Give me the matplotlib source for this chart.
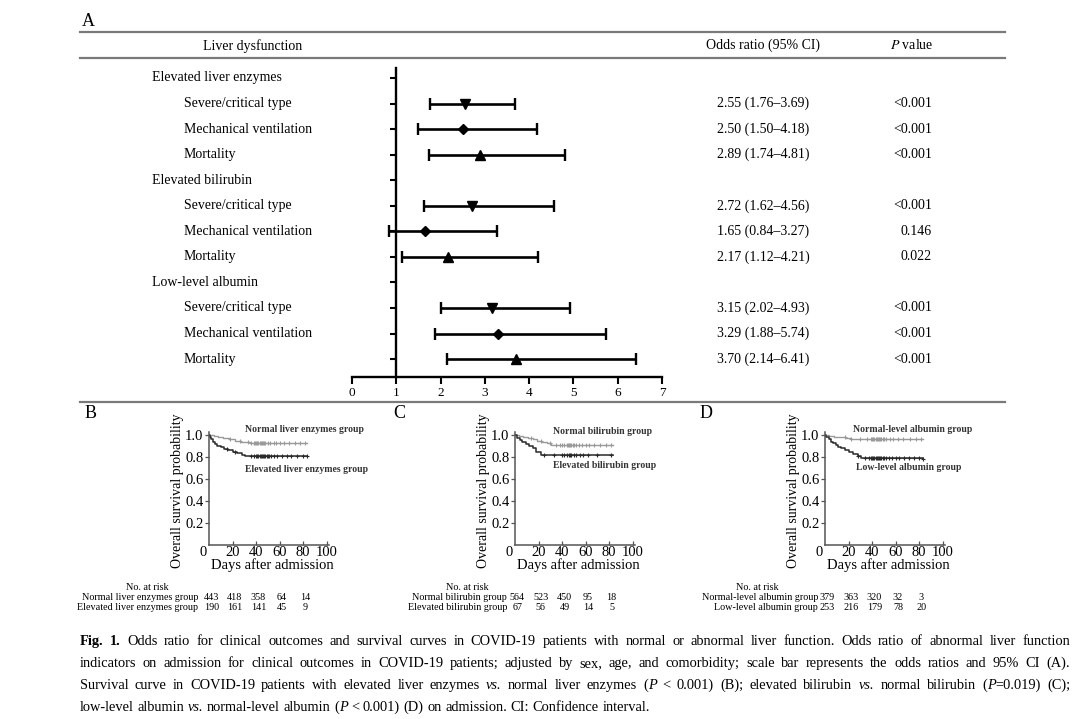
import matplotlib
matplotlib.use("Agg")
import matplotlib.pyplot as plt
import matplotlib.transforms as mtransforms
from matplotlib.lines import Line2D
import numpy as np

plt.rcParams["font.family"] = ["Liberation Serif", "DejaVu Serif"]

W, H = 1080, 719

# ---------------------------------------------------------------------------
# Panel A data: odds ratios (95% CI) and P values
# ---------------------------------------------------------------------------
GROUPS = ["Elevated liver enzymes", "Elevated bilirubin", "Low-level albumin"]
OUTCOMES = ["Severe/critical type", "Mechanical ventilation", "Mortality"]
OR_VAL = [2.55, 2.50, 2.89, 2.72, 1.65, 2.17, 3.15, 3.29, 3.70]
CI_LO = [1.76, 1.50, 1.74, 1.62, 0.84, 1.12, 2.02, 1.88, 2.14]
CI_HI = [3.69, 4.18, 4.81, 4.56, 3.27, 4.21, 4.93, 5.74, 6.41]
P_VAL = ["<0.001", "<0.001", "<0.001", "<0.001", "0.146", "0.022",
         "<0.001", "<0.001", "<0.001"]
MARKERS = {"Severe/critical type": ("v", 7), "Mechanical ventilation": ("D", 4.8),
           "Mortality": ("^", 7)}

# ---------------------------------------------------------------------------
# Panels B-D: Kaplan-Meier curves (step times, survival, censor times)
# ---------------------------------------------------------------------------
B_NORM_T = [0, 4, 8, 12, 17, 22, 27, 31, 35, 83]
B_NORM_S = [1.0, 0.99, 0.98, 0.97, 0.96, 0.95, 0.94, 0.935, 0.93, 0.93]
B_NORM_C = [18, 26, 33, 36, 38, 39, 40, 41, 42, 43, 44, 45, 46, 47, 48, 50,
            52, 55, 57, 60, 64, 68, 73, 77, 82]
B_ELEV_T = [0, 1, 2, 3, 5, 7, 10, 13, 16, 20, 24, 28, 31, 83]
B_ELEV_S = [1.0, 0.98, 0.96, 0.94, 0.92, 0.90, 0.89, 0.875, 0.865, 0.85,
            0.835, 0.82, 0.81, 0.81]
B_ELEV_C = [15, 22, 36, 38, 40, 41, 42, 43, 44, 45, 46, 47, 48, 49, 50, 51,
            53, 55, 58, 62, 66, 70, 75, 80, 83]

C_NORM_T = [0, 3, 7, 11, 15, 19, 23, 27, 31, 83]
C_NORM_S = [1.0, 0.99, 0.98, 0.97, 0.96, 0.95, 0.94, 0.925, 0.91, 0.91]
C_NORM_C = [14, 22, 30, 35, 38, 40, 42, 44, 45, 46, 47, 48, 49, 50, 52, 54,
            57, 60, 63, 67, 72, 77, 82]
C_ELEV_T = [0, 2, 4, 6, 9, 12, 15, 18, 22, 83]
C_ELEV_S = [1.0, 0.97, 0.955, 0.94, 0.92, 0.90, 0.88, 0.85, 0.82, 0.82]
C_ELEV_C = [25, 33, 40, 42, 44, 46, 47, 48, 50, 52, 55, 58, 62, 70, 82]

D_NORM_T = [0, 3, 8, 18, 22, 83]
D_NORM_S = [1.0, 0.99, 0.98, 0.97, 0.96, 0.96]
D_NORM_C = [17, 22, 30, 36, 39, 40, 41, 42, 43, 44, 45, 46, 47, 48, 49, 50,
            52, 55, 58, 62, 66, 72, 77, 82]
D_LOW_T = [0, 1, 3, 5, 7, 9, 11, 14, 17, 20, 24, 28, 31, 83]
D_LOW_S = [1.0, 0.98, 0.96, 0.94, 0.925, 0.91, 0.895, 0.88, 0.865, 0.85,
           0.83, 0.81, 0.79, 0.785]
D_LOW_C = [28, 34, 37, 39, 40, 41, 42, 43, 44, 45, 46, 47, 48, 49, 50, 52,
           54, 57, 60, 63, 67, 71, 76, 80, 83]

RISK_DAYS = [0, 20, 40, 60, 80]
B_RISK = ([443, 418, 358, 64, 14], [190, 161, 141, 45, 9])
C_RISK = ([564, 523, 450, 95, 18], [67, 56, 49, 14, 5])
D_RISK = ([379, 363, 320, 32, 3], [253, 216, 179, 78, 20])

B_NAMES = ("Normal liver enzymes group", "Elevated liver enzymes group")
C_NAMES = ("Normal bilirubin group", "Elevated bilirubin group")
D_NAMES = ("Normal-level albumin group", "Low-level albumin group")

CAPTION = [
    [("Fig. 1.", "b"), (" Odds ratio for clinical outcomes and survival curves in COVID-19 "
     "patients with normal or abnormal liver function. Odds ratio of abnormal liver function", "n")],
    [("indicators on admission for clinical outcomes in COVID-19 patients; adjusted by sex, "
      "age, and comorbidity; scale bar represents the odds ratios and 95% CI (A).", "n")],
    [("Survival curve in COVID-19 patients with elevated liver enzymes ", "n"), ("vs.", "i"),
     (" normal liver enzymes (", "n"), ("P", "i"), (" < 0.001) (B); elevated bilirubin ", "n"),
     ("vs.", "i"), (" normal bilirubin (", "n"), ("P", "i"), ("=0.019) (C);", "n")],
    [("low-level albumin ", "n"), ("vs.", "i"), (" normal-level albumin (", "n"), ("P", "i"),
     (" < 0.001) (D) on admission. CI: Confidence interval.", "n")],
]

fig = plt.figure(figsize=(W / 100, H / 100), dpi=100)


def fpos(x, y):
    return x / W, 1 - y / H


def axes_px(l, t, r, b):
    return fig.add_axes([l / W, 1 - b / H, (r - l) / W, (b - t) / H])


def hline(x0, x1, y, color="#7a7a7a", lw=1.6):
    fig.add_artist(Line2D([x0 / W, x1 / W], [1 - y / H, 1 - y / H],
                          transform=fig.transFigure, color=color, lw=lw))


FS_A = 10

# ---------------------------------------------------------------------------
# Panel A — forest plot
# ---------------------------------------------------------------------------
fig.text(*fpos(82, 22), "A", fontsize=13, va="center", ha="left")
hline(80, 1005, 32)
hline(80, 1005, 58)
hline(80, 1005, 402)
fig.text(*fpos(253, 46), "Liver dysfunction", fontsize=FS_A, ha="center", va="center")
fig.text(*fpos(763, 45), "Odds ratio (95% CI)", fontsize=FS_A, ha="center", va="center")
fig.text(*fpos(912, 45), "$P$ value", fontsize=FS_A, ha="center", va="center",
         math_fontfamily="stix")

axf = axes_px(352, 68, 662, 377)
n_rows = len(GROUPS) * (len(OUTCOMES) + 1)
axf.set_xlim(0, 7)
axf.set_ylim(n_rows - 1 + 0.70, -0.39)
for s in ["top", "right"]:
    axf.spines[s].set_visible(False)
axf.spines["left"].set_position(("data", 1))
for s in ["left", "bottom"]:
    axf.spines[s].set_linewidth(1.7)
axf.set_xticks(range(8))
axf.set_yticks(range(n_rows))
axf.set_yticklabels([])
axf.tick_params(axis="x", length=5, width=1.5, labelsize=9.5, pad=2)
axf.tick_params(axis="y", length=4, width=1.5)
axf.patch.set_alpha(0)

lab_tr = mtransforms.blended_transform_factory(fig.transFigure, axf.transData)
row = 0
k = 0
for grp in GROUPS:
    axf.text(152 / W, row, grp, transform=lab_tr, fontsize=FS_A, va="center", ha="left",
             clip_on=False)
    row += 1
    for out in OUTCOMES:
        axf.text(184 / W, row, out, transform=lab_tr, fontsize=FS_A, va="center",
                 ha="left", clip_on=False)
        axf.errorbar(OR_VAL[k], row, xerr=[[OR_VAL[k] - CI_LO[k]], [CI_HI[k] - OR_VAL[k]]],
                     fmt="none", ecolor="black", elinewidth=1.9, capsize=4, capthick=1.7,
                     clip_on=False)
        mk, ms = MARKERS[out]
        axf.plot(OR_VAL[k], row, marker=mk, ms=ms, color="black", clip_on=False, zorder=4)
        axf.text(763 / W, row, f"{OR_VAL[k]:.2f} ({CI_LO[k]:.2f}\u2013{CI_HI[k]:.2f})",
                 transform=lab_tr, fontsize=FS_A, va="center", ha="center", clip_on=False)
        axf.text(932 / W, row, P_VAL[k], transform=lab_tr, fontsize=FS_A, va="center",
                 ha="right", clip_on=False)
        row += 1
        k += 1


# ---------------------------------------------------------------------------
# Panels B-D — survival curves
# ---------------------------------------------------------------------------
def step_at(ts, ss, c):
    return ss[np.searchsorted(ts, c, side="right") - 1]


panels = [
    ("B", 85, 209, B_NORM_T, B_NORM_S, B_NORM_C, B_ELEV_T, B_ELEV_S, B_ELEV_C, B_RISK,
     B_NAMES, (245, 429), (245, 469), 147, 198),
    ("C", 393, 515, C_NORM_T, C_NORM_S, C_NORM_C, C_ELEV_T, C_ELEV_S, C_ELEV_C, C_RISK,
     C_NAMES, (553, 432), (553, 466), 467, 507),
    ("D", 700, 825, D_NORM_T, D_NORM_S, D_NORM_C, D_LOW_T, D_LOW_S, D_LOW_C, D_RISK,
     D_NAMES, (853, 429), (856, 468), 757, 818),
]

for (letter, lx, left, nt, ns, nc, et, es, ec, risk, names,
     pos_n, pos_e, risk_cx, risk_rx) in panels:
    fig.text(*fpos(lx, 413), letter, fontsize=13, va="center", ha="left")
    ax = axes_px(left, 431.7, left + 120, 545)
    ax.set_xlim(0, 102)
    ax.set_ylim(0, 1.03)
    for s in ["top", "right"]:
        ax.spines[s].set_visible(False)
    for s in ["left", "bottom"]:
        ax.spines[s].set_linewidth(1.1)
        ax.spines[s].set_color("#555555")
    ax.set_xticks([20, 40, 60, 80, 100])
    ax.set_yticks([0.2, 0.4, 0.6, 0.8, 1.0])
    ax.set_yticklabels(["0.2", "0.4", "0.6", "0.8", "1.0"])
    ax.tick_params(axis="x", direction="in", length=3, width=0.9, labelsize=10.5, pad=1,
                   color="#555555")
    ax.tick_params(axis="y", direction="out", length=3, width=0.9, labelsize=10.5, pad=1,
                   color="#555555")
    ax.patch.set_alpha(0)
    fig.text(*fpos(left - 6, 552), "0", fontsize=10.5, ha="center", va="center")
    fig.text(*fpos(left + 63, 565), "Days after admission", fontsize=10.5,
             ha="center", va="center")
    fig.text(*fpos(left - 31, 491), "Overall survival probability", fontsize=10,
             ha="center", va="center", rotation=90)

    for ts, ss, cs, col, lw in [(nt, ns, nc, "#9a9a9a", 1.0), (et, es, ec, "#2a2a2a", 1.1)]:
        ts = np.array(ts)
        ss = np.array(ss)
        ax.step(ts, ss, where="post", color=col, lw=lw)
        ax.plot(cs, [step_at(ts, ss, c) for c in cs], ls="none", marker="+", ms=3.2,
                mew=0.8, color=col)

    fig.text(*fpos(*pos_n), names[0], fontsize=7, fontweight="bold", ha="left",
             va="center", color="#333333")
    fig.text(*fpos(*pos_e), names[1], fontsize=7, fontweight="bold", ha="left",
             va="center", color="#333333")

    # risk table
    fig.text(*fpos(risk_cx, 588), "No. at risk", fontsize=7.3, ha="center", va="center")
    rtr = mtransforms.blended_transform_factory(ax.transData, fig.transFigure)
    for name, vals, ry in [(names[0], risk[0], 597.5), (names[1], risk[1], 607.5)]:
        fig.text(*fpos(risk_rx, ry), name, fontsize=7.3, ha="right", va="center")
        for d, v in zip(RISK_DAYS, vals):
            ax.text(d + 2, 1 - ry / H, str(v), transform=rtr, fontsize=7.3,
                    ha="center", va="center", clip_on=False)


# ---------------------------------------------------------------------------
# Caption — word-by-word placement with justification
# ---------------------------------------------------------------------------
STYLE = {"n": dict(), "b": dict(fontweight="bold"), "i": dict(fontstyle="italic")}
renderer = fig.canvas.get_renderer()
CAP_SIZE = 10.4


def words_of(segs):
    words = [[]]
    for text, st in segs:
        parts = text.split(" ")
        for j, p in enumerate(parts):
            if j > 0:
                words.append([])
            if p:
                words[-1].append((p, st))
    return [w for w in words if w]


def text_width(s, st):
    t = fig.text(0, 0, s, fontsize=CAP_SIZE, **STYLE[st])
    w = t.get_window_extent(renderer).width
    t.remove()
    return w


space_w = text_width("a a", "n") - text_width("aa", "n")

for li, (segs, base) in enumerate(zip(CAPTION, [645, 667, 689, 711])):
    words = words_of(segs)
    widths = [[text_width(p, st) for p, st in w] for w in words]
    total = sum(sum(w) for w in widths)
    if li < 3:
        gap = (1070 - 80 - total) / (len(words) - 1)
    else:
        gap = space_w
    x = 80
    for w, ws in zip(words, widths):
        for (p, st), pw in zip(w, ws):
            fig.text(x / W, 1 - base / H, p, fontsize=CAP_SIZE, va="baseline",
                     ha="left", **STYLE[st])
            x += pw
        x += gap

fig.savefig("out.png", dpi=100)
